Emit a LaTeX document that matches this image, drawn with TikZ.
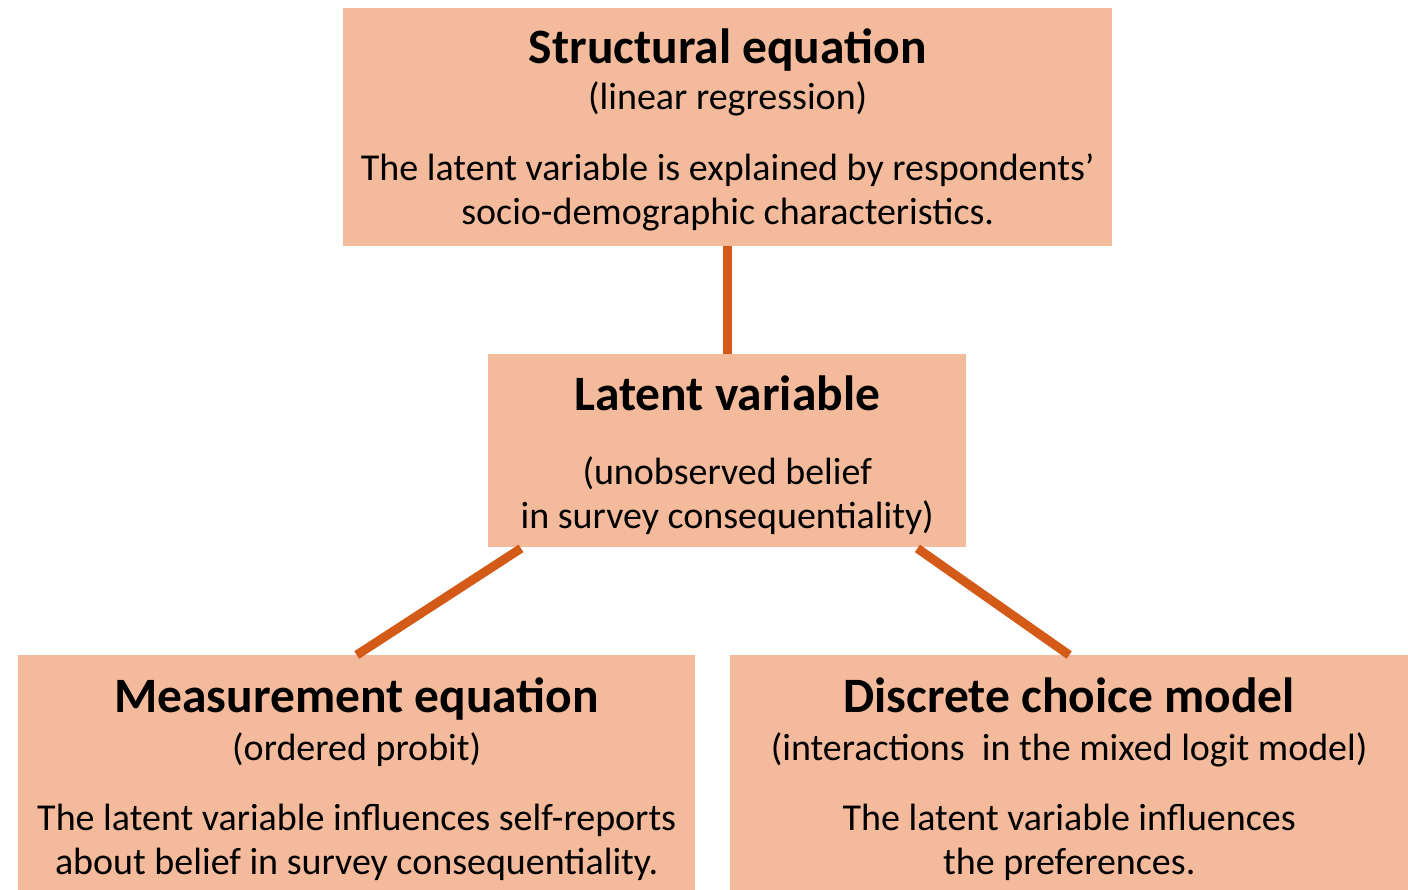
\documentclass[tikz,border=0pt]{standalone}
\usepackage{fontspec}
\setmainfont{Carlito}
\definecolor{boxpeach}{HTML}{F4BA9C}
\definecolor{linkorange}{HTML}{D45A17}

\begin{document}
\begin{tikzpicture}[x=1pt, y=-1pt,
	box/.style={fill=boxpeach, inner sep=0pt, anchor=north west},
	heading/.style={anchor=base, inner sep=0pt, font=\fontsize{49.5}{52}\selectfont\bfseries},
	remark/.style={anchor=base, inner sep=0pt, align=center, font=\fontsize{38}{44}\selectfont},
	link/.style={linkorange, line width=9pt}]
	\useasboundingbox (0,0) rectangle (1408,890);
	% boxes
	\node [box, minimum width=769, minimum height=238] (structural) at (343,8) {};
	\node [box, minimum width=478, minimum height=193] (latent) at (488,354) {};
	\node [box, minimum width=677, minimum height=235] (measure) at (18,655) {};
	\node [box, minimum width=678, minimum height=235] (choice) at (730,655) {};
	% texts (two-line texts sit on their last line)
	\node [heading] (structural title) at ([yshift=-56pt] structural.north) {Structural equation};
	\node [remark] (structural sub) at ([yshift=-102pt] structural.north) {(linear regression)};
	\node [remark] (structural text) at ([yshift=-217pt] structural.north) {The latent variable is explained by respondents’\\socio-demographic characteristics.};
	\node [heading] (latent title) at ([yshift=-56pt] latent.north) {Latent variable};
	\node [remark] (latent text) at ([yshift=-174pt] latent.north) {(unobserved belief\\in survey consequentiality)};
	\node [heading] (measure title) at ([yshift=-57pt] measure.north) {Measurement equation};
	\node [remark] (measure sub) at ([yshift=-105pt] measure.north) {(ordered probit)};
	\node [remark] (measure text) at ([yshift=-219pt] measure.north) {The latent variable influences self-reports\\about belief in survey consequentiality.};
	\node [heading] (choice title) at ([yshift=-57pt] choice.north) {Discrete choice model};
	\node [remark] (choice sub) at ([yshift=-105pt] choice.north) {(interactions\ \ in the mixed logit model)};
	\node [remark] (choice text) at ([yshift=-219pt] choice.north) {The latent variable influences\\the preferences.};
	% links
	\coordinate (latent left) at ([xshift=33pt, yshift=-1pt] latent.south west);
	\coordinate (latent right) at ([xshift=-49pt, yshift=-1pt] latent.south east);
	\draw [link] (structural.south) -- (structural.south |- latent.north);
	\draw [link] (latent left) -- (measure.north);
	\draw [link] (latent right) -- (choice.north);
\end{tikzpicture}
\end{document}
